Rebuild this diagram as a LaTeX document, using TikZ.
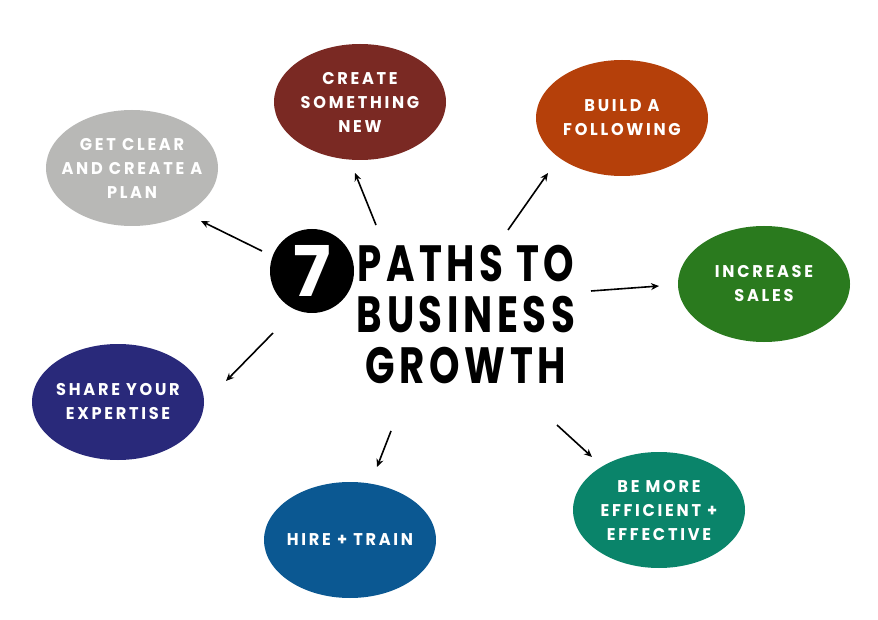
\documentclass[tikz,border=0pt]{standalone}
\usepackage{fontspec}
\setmainfont{Poppins}
\newfontfamily\lblfont[LetterSpace=16,FakeStretch=0.95]{Poppins}
\newfontfamily\ttlfont[LetterSpace=9,FakeStretch=0.76]{Poppins}
\usetikzlibrary{arrows.meta,shapes.geometric}
\definecolor{cgray}{HTML}{B8B8B6}
\definecolor{cred}{HTML}{7A2923}
\definecolor{corange}{HTML}{B5400A}
\definecolor{cgreen}{HTML}{2A7A1E}
\definecolor{cnavy}{HTML}{29297A}
\definecolor{cblue}{HTML}{0B5892}
\definecolor{cteal}{HTML}{0A846A}
\tikzset{
  blob/.style={ellipse, minimum width=172pt, minimum height=116pt, inner sep=0pt},
  lbl/.style={text=white, align=center, inner sep=0pt,
    font=\lblfont\bfseries\fontsize{17}{24}\selectfont},
  conn/.style={line width=1.6pt, -{Stealth[length=8pt,width=7pt]}},
}
\begin{document}
\begin{tikzpicture}[x=1pt,y=-1pt]
\useasboundingbox (0,0) rectangle (878,620);
\fill[white] (0,0) rectangle (878,620);
\node[blob, fill=cgray, label={[lbl]center:GET CLEAR\\AND CREATE A\\PLAN}] (plan) at (132,168) {};
\node[blob, fill=cred, label={[lbl]center:CREATE\\SOMETHING\\NEW}] (new) at (360,102) {};
\node[blob, fill=corange, label={[lbl]center:BUILD A\\FOLLOWING}] (follow) at (622,118) {};
\node[blob, fill=cgreen, label={[lbl]center:INCREASE\\SALES}] (sales) at (764,284) {};
\node[blob, fill=cnavy, label={[lbl]center:SHARE YOUR\\EXPERTISE}] (share) at (118,402) {};
\node[blob, fill=cblue, label={[lbl]center:HIRE + TRAIN}] (hire) at (350,540) {};
\node[blob, fill=cteal, label={[lbl]center:BE MORE\\EFFICIENT +\\EFFECTIVE}] (eff) at (659,510) {};
\node[circle, fill=black, minimum size=84pt, inner sep=0pt, text=white,
  font=\bfseries\fontsize{70}{70}\selectfont] (seven) at (312,271) {7};
\node[anchor=north, align=center, inner sep=0pt,
  font=\ttlfont\bfseries\fontsize{51}{51}\selectfont] (title) at (466,245)
  {PATHS TO\\BUSINESS\\GROWTH};
\coordinate (a1s) at (262,251); \coordinate (a1e) at (201,221);
\coordinate (a2s) at (376,225); \coordinate (a2e) at (355,173);
\coordinate (a3s) at (508,230); \coordinate (a3e) at (548,173);
\coordinate (a4s) at (591,291); \coordinate (a4e) at (659,286);
\coordinate (a5s) at (273,333); \coordinate (a5e) at (226,381);
\coordinate (a6s) at (391,431); \coordinate (a6e) at (377,467);
\coordinate (a7s) at (557,425); \coordinate (a7e) at (592,457);
\foreach \i in {1,...,7} {\draw[conn] (a\i s) -- (a\i e);}
\end{tikzpicture}
\end{document}
